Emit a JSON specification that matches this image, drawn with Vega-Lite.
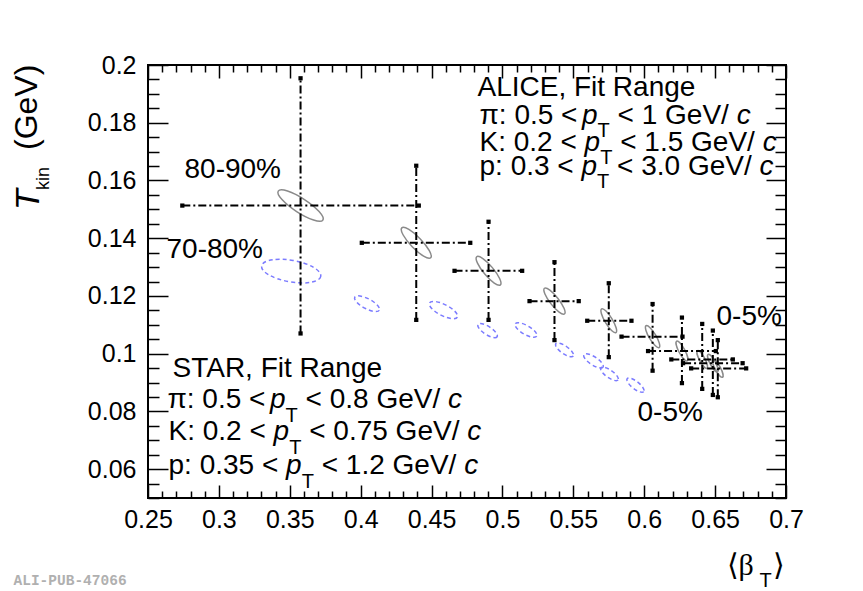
{
  "$schema": "https://vega.github.io/schema/vega-lite/v6.json",
  "width": 638,
  "height": 433,
  "autosize": {"type": "none"},
  "padding": {"left": 148, "top": 65, "right": 77, "bottom": 93},
  "background": "white",
  "config": {
    "view": {"stroke": "black", "strokeWidth": 2},
    "axis": {"domain": false, "grid": false, "ticks": true, "tickColor": "black", "tickWidth": 1.5, "labelFont": "Liberation Sans", "labelFontSize": 25, "labelColor": "black", "labelOverlap": false, "labelFlush": false, "labelBound": false}
  },
  "resolve": {"axis": {"x": "independent", "y": "independent"}},
  "datasets": {
    "alice": [
      {"cent": "80-90%", "b": 0.3576, "t": 0.1513, "bl": 0.2742, "bh": 0.4410, "tl": 0.1070, "th": 0.1954, "ea": 0.01876, "tilt": 33},
      {"cent": "70-80%", "b": 0.4392, "t": 0.1384, "bl": 0.4008, "bh": 0.4773, "tl": 0.1117, "th": 0.1651, "ea": 0.01467, "tilt": 46},
      {"cent": "60-70%", "b": 0.4902, "t": 0.1287, "bl": 0.4662, "bh": 0.5139, "tl": 0.1117, "th": 0.1457, "ea": 0.01298, "tilt": 50},
      {"cent": "50-60%", "b": 0.5367, "t": 0.1182, "bl": 0.5191, "bh": 0.5538, "tl": 0.1047, "th": 0.1317, "ea": 0.0115, "tilt": 52},
      {"cent": "40-50%", "b": 0.5750, "t": 0.1114, "bl": 0.5598, "bh": 0.5910, "tl": 0.0988, "th": 0.1244, "ea": 0.0098, "tilt": 59},
      {"cent": "30-40%", "b": 0.6059, "t": 0.1059, "bl": 0.5840, "bh": 0.6270, "tl": 0.0941, "th": 0.1172, "ea": 0.00896, "tilt": 59},
      {"cent": "20-30%", "b": 0.6266, "t": 0.1009, "bl": 0.6027, "bh": 0.6505, "tl": 0.0898, "th": 0.1125, "ea": 0.0079, "tilt": 62},
      {"cent": "10-20%", "b": 0.6409, "t": 0.0980, "bl": 0.6191, "bh": 0.6625, "tl": 0.0878, "th": 0.1103, "ea": 0.00705, "tilt": 62},
      {"cent": "5-10%", "b": 0.6484, "t": 0.0967, "bl": 0.6274, "bh": 0.6694, "tl": 0.0857, "th": 0.1080, "ea": 0.00705, "tilt": 62},
      {"cent": "0-5%", "b": 0.6519, "t": 0.0949, "bl": 0.6331, "bh": 0.6719, "tl": 0.0849, "th": 0.1047, "ea": 0.00705, "tilt": 62}
    ],
    "star": [
      {"cent": "70-80%", "b": 0.3510, "t": 0.1286, "ea": 0.02116, "tilt": 10},
      {"cent": "60-70%", "b": 0.4045, "t": 0.1173, "ea": 0.0098, "tilt": 28},
      {"cent": "50-60%", "b": 0.4584, "t": 0.1151, "ea": 0.0110, "tilt": 27},
      {"cent": "40-50%", "b": 0.4895, "t": 0.1080, "ea": 0.00804, "tilt": 33},
      {"cent": "30-40%", "b": 0.5166, "t": 0.1082, "ea": 0.00874, "tilt": 30},
      {"cent": "20-30%", "b": 0.5438, "t": 0.1013, "ea": 0.00755, "tilt": 35},
      {"cent": "10-20%", "b": 0.5642, "t": 0.0975, "ea": 0.00804, "tilt": 33},
      {"cent": "5-10%", "b": 0.5755, "t": 0.0930, "ea": 0.0074, "tilt": 35},
      {"cent": "0-5%", "b": 0.5938, "t": 0.0891, "ea": 0.0074, "tilt": 38}
    ]
  },
  "layer": [
    {
      "data": {"name": "star"},
      "mark": {"type": "point", "shape": "M1,0C1,0.199,0.552,0.36,0,0.36C-0.552,0.36,-1,0.199,-1,0C-1,-0.199,-0.552,-0.36,0,-0.36C0.552,-0.36,1,-0.199,1,0Z", "filled": false, "stroke": "#7b7bff", "strokeWidth": 1.5, "strokeDash": [4, 3], "opacity": 1},
      "encoding": {
        "x": {"field": "b", "type": "quantitative", "scale": {"domain": [0.25, 0.7], "nice": false, "zero": false},
          "axis": {"orient": "bottom", "title": null, "values": [0.25,0.26,0.27,0.28,0.29,0.3,0.31,0.32,0.33,0.34,0.35,0.36,0.37,0.38,0.39,0.4,0.41,0.42,0.43,0.44,0.45,0.46,0.47,0.48,0.49,0.5,0.51,0.52,0.53,0.54,0.55,0.56,0.57,0.58,0.59,0.6,0.61,0.62,0.63,0.64,0.65,0.66,0.67,0.68,0.69,0.7], "format": ".2~f", "labelExpr": "abs(datum.value*20-round(datum.value*20))<0.01 ? datum.label : ''", "tickSize": {"condition": {"test": "abs(datum.value*20-round(datum.value*20))<0.01", "value": -13}, "value": -7}, "labelPadding": 22}},
        "y": {"field": "t", "type": "quantitative", "scale": {"domain": [0.05, 0.2], "nice": false, "zero": false},
          "axis": {"orient": "left", "title": null, "values": [0.05,0.055,0.06,0.065,0.07,0.075,0.08,0.085,0.09,0.095,0.1,0.105,0.11,0.115,0.12,0.125,0.13,0.135,0.14,0.145,0.15,0.155,0.16,0.165,0.17,0.175,0.18,0.185,0.19,0.195,0.2], "format": ".2~f", "labelExpr": "abs(datum.value*50-round(datum.value*50))<0.01 ? datum.label : ''", "tickSize": {"condition": {"test": "abs(datum.value*50-round(datum.value*50))<0.01", "value": -20}, "value": -11}, "labelPadding": 32}},
        "size": {"field": "ea", "type": "quantitative", "scale": {"type": "pow", "exponent": 2, "domain": [0, 0.025], "range": [0, 5027]}, "legend": null},
        "angle": {"field": "tilt", "type": "quantitative", "scale": null}
      }
    },
    {
      "data": {"name": "alice"},
      "mark": {"type": "point", "shape": "M1,0C1,0.149,0.552,0.27,0,0.27C-0.552,0.27,-1,0.149,-1,0C-1,-0.149,-0.552,-0.27,0,-0.27C0.552,-0.27,1,-0.149,1,0Z", "filled": false, "stroke": "#8a8a8a", "strokeWidth": 1.5, "opacity": 1},
      "encoding": {
        "x": {"field": "b", "type": "quantitative", "scale": {"domain": [0.25, 0.7], "nice": false, "zero": false},
          "axis": {"orient": "top", "title": null, "labels": false, "values": [0.25,0.26,0.27,0.28,0.29,0.3,0.31,0.32,0.33,0.34,0.35,0.36,0.37,0.38,0.39,0.4,0.41,0.42,0.43,0.44,0.45,0.46,0.47,0.48,0.49,0.5,0.51,0.52,0.53,0.54,0.55,0.56,0.57,0.58,0.59,0.6,0.61,0.62,0.63,0.64,0.65,0.66,0.67,0.68,0.69,0.7], "tickSize": {"condition": {"test": "abs(datum.value*20-round(datum.value*20))<0.01", "value": -13}, "value": -7}}},
        "y": {"field": "t", "type": "quantitative", "scale": {"domain": [0.05, 0.2], "nice": false, "zero": false},
          "axis": {"orient": "right", "title": null, "labels": false, "values": [0.05,0.055,0.06,0.065,0.07,0.075,0.08,0.085,0.09,0.095,0.1,0.105,0.11,0.115,0.12,0.125,0.13,0.135,0.14,0.145,0.15,0.155,0.16,0.165,0.17,0.175,0.18,0.185,0.19,0.195,0.2], "tickSize": {"condition": {"test": "abs(datum.value*50-round(datum.value*50))<0.01", "value": -20}, "value": -11}}},
        "size": {"field": "ea", "type": "quantitative", "scale": {"type": "pow", "exponent": 2, "domain": [0, 0.025], "range": [0, 5027]}, "legend": null},
        "angle": {"field": "tilt", "type": "quantitative", "scale": null}
      }
    },
    {
      "data": {"name": "alice"},
      "mark": {"type": "rule", "color": "black", "strokeWidth": 2, "strokeDash": [8, 3, 2, 3]},
      "encoding": {
        "x": {"field": "bl", "type": "quantitative", "scale": {"domain": [0.25, 0.7], "nice": false, "zero": false}, "axis": null},
        "x2": {"field": "bh"},
        "y": {"field": "t", "type": "quantitative", "scale": {"domain": [0.05, 0.2], "nice": false, "zero": false}, "axis": null}
      }
    },
    {
      "data": {"name": "alice"},
      "mark": {"type": "rule", "color": "black", "strokeWidth": 2, "strokeDash": [8, 3, 2, 3]},
      "encoding": {
        "x": {"field": "b", "type": "quantitative", "scale": {"domain": [0.25, 0.7], "nice": false, "zero": false}, "axis": null},
        "y": {"field": "tl", "type": "quantitative", "scale": {"domain": [0.05, 0.2], "nice": false, "zero": false}, "axis": null},
        "y2": {"field": "th"}
      }
    },
    {
      "data": {"name": "alice"},
      "mark": {"type": "point", "shape": "square", "filled": true, "color": "black", "size": 18, "opacity": 1},
      "encoding": {
        "x": {"field": "bl", "type": "quantitative", "scale": {"domain": [0.25, 0.7], "nice": false, "zero": false}, "axis": null},
        "y": {"field": "t", "type": "quantitative", "scale": {"domain": [0.05, 0.2], "nice": false, "zero": false}, "axis": null}
      }
    },
    {
      "data": {"name": "alice"},
      "mark": {"type": "point", "shape": "square", "filled": true, "color": "black", "size": 18, "opacity": 1},
      "encoding": {
        "x": {"field": "bh", "type": "quantitative", "scale": {"domain": [0.25, 0.7], "nice": false, "zero": false}, "axis": null},
        "y": {"field": "t", "type": "quantitative", "scale": {"domain": [0.05, 0.2], "nice": false, "zero": false}, "axis": null}
      }
    },
    {
      "data": {"name": "alice"},
      "mark": {"type": "point", "shape": "square", "filled": true, "color": "black", "size": 18, "opacity": 1},
      "encoding": {
        "x": {"field": "b", "type": "quantitative", "scale": {"domain": [0.25, 0.7], "nice": false, "zero": false}, "axis": null},
        "y": {"field": "tl", "type": "quantitative", "scale": {"domain": [0.05, 0.2], "nice": false, "zero": false}, "axis": null}
      }
    },
    {
      "data": {"name": "alice"},
      "mark": {"type": "point", "shape": "square", "filled": true, "color": "black", "size": 18, "opacity": 1},
      "encoding": {
        "x": {"field": "b", "type": "quantitative", "scale": {"domain": [0.25, 0.7], "nice": false, "zero": false}, "axis": null},
        "y": {"field": "th", "type": "quantitative", "scale": {"domain": [0.05, 0.2], "nice": false, "zero": false}, "axis": null}
      }
    },
    {
      "data": {"values": [
        {"s": "ALICE, Fit Range", "b": 0.48241, "t": 0.18926},
        {"s": "π: 0.5 <", "b": 0.48382, "t": 0.17956},
        {"s": "< 1 GeV/", "b": 0.58122, "t": 0.17956},
        {"s": "K: 0.2 <", "b": 0.48382, "t": 0.17021},
        {"s": "< 1.5 GeV/", "b": 0.58306, "t": 0.17021},
        {"s": "p: 0.3 <", "b": 0.48382, "t": 0.16189},
        {"s": "< 3.0 GeV/", "b": 0.58087, "t": 0.16189},
        {"s": "STAR, Fit Range", "b": 0.26728, "t": 0.09192},
        {"s": "π: 0.5 <", "b": 0.26375, "t": 0.08118},
        {"s": "< 0.8 GeV/", "b": 0.36116, "t": 0.08118},
        {"s": "K: 0.2 <", "b": 0.26446, "t": 0.07009},
        {"s": "< 0.75 GeV/", "b": 0.3637, "t": 0.07009},
        {"s": "p: 0.35 <", "b": 0.26446, "t": 0.05831},
        {"s": "< 1.2 GeV/", "b": 0.37252, "t": 0.05831},
        {"s": "80-90%", "b": 0.27574, "t": 0.16085},
        {"s": "70-80%", "b": 0.26305, "t": 0.13314},
        {"s": "0-5%", "b": 0.65098, "t": 0.10993},
        {"s": "0-5%", "b": 0.59526, "t": 0.07667}
      ]},
      "mark": {"type": "text", "align": "left", "baseline": "alphabetic", "font": "Liberation Sans", "fontSize": 28, "color": "black"},
      "encoding": {
        "x": {"field": "b", "type": "quantitative", "scale": {"domain": [0.25, 0.7], "nice": false, "zero": false}, "axis": null},
        "y": {"field": "t", "type": "quantitative", "scale": {"domain": [0.05, 0.2], "nice": false, "zero": false}, "axis": null},
        "text": {"field": "s"}
      }
    },
    {
      "data": {"values": [
        {"s": "p", "b": 0.55611, "t": 0.17956}, {"s": "c", "b": 0.66523, "t": 0.17956},
        {"s": "p", "b": 0.55795, "t": 0.17021}, {"s": "c", "b": 0.68357, "t": 0.17021},
        {"s": "p", "b": 0.55576, "t": 0.16189}, {"s": "c", "b": 0.68131, "t": 0.16189},
        {"s": "p", "b": 0.33605, "t": 0.08118}, {"s": "c", "b": 0.46167, "t": 0.08118},
        {"s": "p", "b": 0.33859, "t": 0.07009}, {"s": "c", "b": 0.47514, "t": 0.07009},
        {"s": "p", "b": 0.34741, "t": 0.05831}, {"s": "c", "b": 0.47303, "t": 0.05831}
      ]},
      "mark": {"type": "text", "align": "left", "baseline": "alphabetic", "font": "Liberation Sans", "fontSize": 28, "fontStyle": "italic", "color": "black"},
      "encoding": {
        "x": {"field": "b", "type": "quantitative", "scale": {"domain": [0.25, 0.7], "nice": false, "zero": false}, "axis": null},
        "y": {"field": "t", "type": "quantitative", "scale": {"domain": [0.05, 0.2], "nice": false, "zero": false}, "axis": null},
        "text": {"field": "s"}
      }
    },
    {
      "data": {"values": [
        {"s": "T", "b": 0.56712, "t": 0.17506},
        {"s": "T", "b": 0.56895, "t": 0.16570},
        {"s": "T", "b": 0.56676, "t": 0.15739},
        {"s": "T", "b": 0.34705, "t": 0.07633},
        {"s": "T", "b": 0.34959, "t": 0.06524},
        {"s": "T", "b": 0.35841, "t": 0.05346},
        {"s": "T", "b": 0.68131, "t": 0.01917}
      ]},
      "mark": {"type": "text", "align": "left", "baseline": "alphabetic", "font": "Liberation Sans", "fontSize": 20, "color": "black"},
      "encoding": {
        "x": {"field": "b", "type": "quantitative", "scale": {"domain": [0.25, 0.7], "nice": false, "zero": false}, "axis": null},
        "y": {"field": "t", "type": "quantitative", "scale": {"domain": [0.05, 0.2], "nice": false, "zero": false}, "axis": null},
        "text": {"field": "s"}
      }
    },
    {
      "data": {"values": [
        {"s": "⟨β", "b": 0.65804, "t": 0.02333},
        {"s": "⟩", "b": 0.69048, "t": 0.02333}
      ]},
      "mark": {"type": "text", "align": "left", "baseline": "alphabetic", "font": "Liberation Serif", "fontSize": 30, "color": "black"},
      "encoding": {
        "x": {"field": "b", "type": "quantitative", "scale": {"domain": [0.25, 0.7], "nice": false, "zero": false}, "axis": null},
        "y": {"field": "t", "type": "quantitative", "scale": {"domain": [0.05, 0.2], "nice": false, "zero": false}, "axis": null},
        "text": {"field": "s"}
      }
    },
    {
      "data": {"values": [{"s": "T", "b": 0.17347, "t": 0.14977}]},
      "mark": {"type": "text", "align": "left", "baseline": "alphabetic", "angle": 270, "font": "Liberation Sans", "fontSize": 34, "fontStyle": "italic", "color": "black"},
      "encoding": {
        "x": {"field": "b", "type": "quantitative", "scale": {"domain": [0.25, 0.7], "nice": false, "zero": false}, "axis": null},
        "y": {"field": "t", "type": "quantitative", "scale": {"domain": [0.05, 0.2], "nice": false, "zero": false}, "axis": null},
        "text": {"field": "s"}
      }
    },
    {
      "data": {"values": [{"s": "kin", "b": 0.17982, "t": 0.15670}]},
      "mark": {"type": "text", "align": "left", "baseline": "alphabetic", "angle": 270, "font": "Liberation Sans", "fontSize": 18, "color": "black"},
      "encoding": {
        "x": {"field": "b", "type": "quantitative", "scale": {"domain": [0.25, 0.7], "nice": false, "zero": false}, "axis": null},
        "y": {"field": "t", "type": "quantitative", "scale": {"domain": [0.05, 0.2], "nice": false, "zero": false}, "axis": null},
        "text": {"field": "s"}
      }
    },
    {
      "data": {"values": [{"s": "(GeV)", "b": 0.17206, "t": 0.17055}]},
      "mark": {"type": "text", "align": "left", "baseline": "alphabetic", "angle": 270, "font": "Liberation Sans", "fontSize": 32, "color": "black"},
      "encoding": {
        "x": {"field": "b", "type": "quantitative", "scale": {"domain": [0.25, 0.7], "nice": false, "zero": false}, "axis": null},
        "y": {"field": "t", "type": "quantitative", "scale": {"domain": [0.05, 0.2], "nice": false, "zero": false}, "axis": null},
        "text": {"field": "s"}
      }
    },
    {
      "data": {"values": [{"s": "ALI-PUB-47066", "b": 0.15513, "t": 0.01985}]},
      "mark": {"type": "text", "align": "left", "baseline": "alphabetic", "font": "Liberation Mono", "fontSize": 14.5, "fontWeight": "bold", "color": "#b0b0b0"},
      "encoding": {
        "x": {"field": "b", "type": "quantitative", "scale": {"domain": [0.25, 0.7], "nice": false, "zero": false}, "axis": null},
        "y": {"field": "t", "type": "quantitative", "scale": {"domain": [0.05, 0.2], "nice": false, "zero": false}, "axis": null},
        "text": {"field": "s"}
      }
    }
  ]
}
